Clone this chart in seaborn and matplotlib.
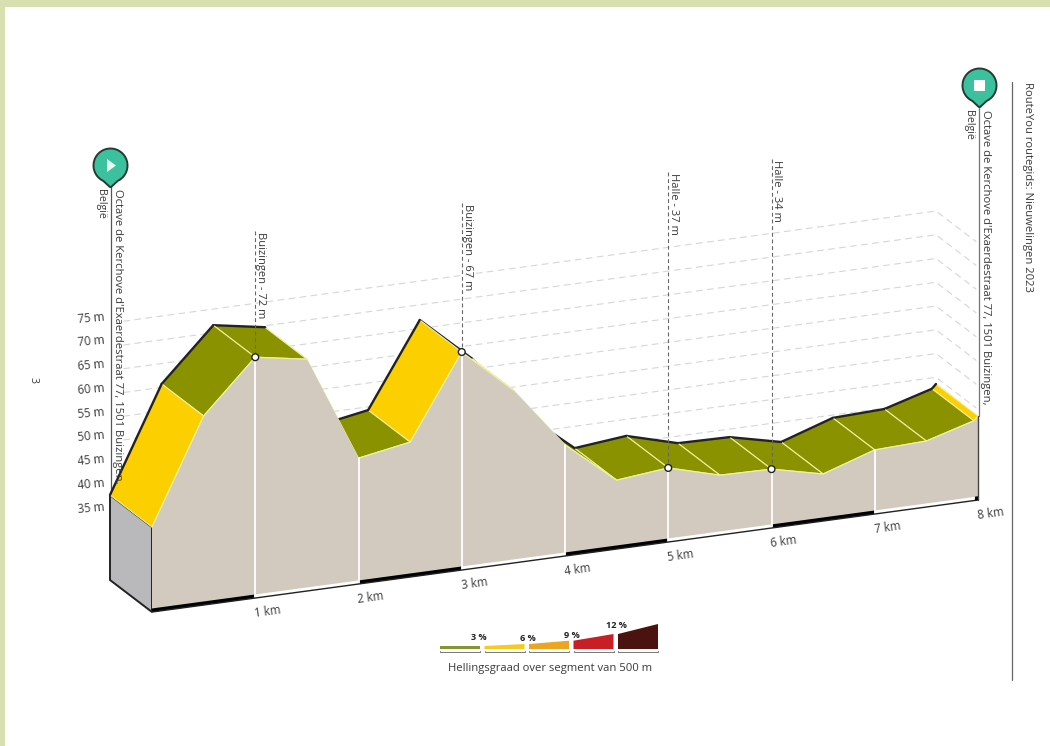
import numpy as np
import pandas as pd
import seaborn as sns
import matplotlib
matplotlib.use("Agg")
import matplotlib.pyplot as plt
from matplotlib.patches import Circle

# ---------- data ----------
km = [0, 0.5, 1, 1.5, 2, 2.5, 3, 3.5, 4, 4.5, 5, 5.5, 6, 6.5, 7, 7.5, 7.96, 8]
elev = [38.8, 60.7, 71.6, 69.7, 47.4, 49.3, 66.8, 57.3, 44.3, 35.4, 36.5, 33.5,
        33.3, 30.8, 34.4, 34.8, 37.7, 38.6]
seg_grade = [6, 3, 3, 3, 3, 6, 3, 3, 3, 3, 3, 3, 3, 3, 3, 3, 6]
km_ticks = [1, 2, 3, 4, 5, 6, 7, 8]
km_labels = ["1 km", "2 km", "3 km", "4 km", "5 km", "6 km", "7 km", "8 km"]
elev_ticks = [75, 70, 65, 60, 55, 50, 45, 40, 35]
poi_km = [1, 3, 5, 6]
poi_elev = [71.6, 66.8, 36.5, 33.3]
poi_names = ["Buizingen - 72 m", "Buizingen - 67 m", "Halle - 37 m", "Halle - 34 m"]
poi_top = [231, 203, 172, 159]
legend_pct = ["3 %", "6 %", "9 %", "12 %", ""]
legend_left = [3, 3, 5, 8.3, 15]
legend_right = [3, 5, 8.3, 15, 25]
legend_colors = ["#84962e", "#f7cb1c", "#eca521", "#c81f26", "#4a130f"]
address = "Octave de Kerchove d'Exaerdestraat 77, 1501 Buizingen,"
country = "België"
title = "RouteYou routegids: Nieuwelingen 2023"
legend_title = "Hellingsgraad over segment van 500 m"
base_elev = 20.9

# ---------- style ----------
sns.set_theme(style="white")
plt.rcParams["font.family"] = ["Open Sans", "DejaVu Sans"]
TXT = "#3a3a3a"
DARK = "#222222"
OLIVE = "#8a9200"
YELLOW = "#fccf00"
BEIGE = "#d3cabf"
GREY = "#b9b9bb"
PALE = "#eef0a0"
GRID = "#d6d6d6"
TEAL = "#3cc19f"
BORDER = "#d8dfb0"


def px(k, e, d=0.0):
    k, e, d = np.asarray(k, float), np.asarray(e, float), np.asarray(d, float)
    return 152 + 103.25 * k - 42 * d, 527 - 14 * k - 4.75 * (e - 38.8) - 32 * d


def line(xs, ys, **kw):
    df = pd.DataFrame({"x": xs, "y": ys})
    sns.lineplot(data=df, x="x", y="y", sort=False, estimator=None, legend=False, ax=ax, **kw)


fig = plt.figure(figsize=(10.5, 7.46), dpi=100, facecolor="white")
ax = fig.add_axes([0, 0, 1, 1])
ax.set_axis_off()

# page border
ax.fill([0, 1050, 1050, 0], [0, 0, 6.5, 6.5], color=BORDER, lw=0, zorder=0)
ax.fill([0, 5, 5, 0], [0, 0, 746, 746], color=BORDER, lw=0, zorder=0)

# dashed grid on back plane + right-hand depth
for e in elev_ticks:
    xb, yb = px([0.13, 8, 8], [e, e, e], [1, 1, 0.04])
    line(xb, yb, color=GRID, lw=0.8, linestyle=(0, (6, 4)), zorder=1)
    lx, ly = px(0, e, 1)
    ax.text(91, float(ly) - 5, f"{e} m", ha="center", va="center", rotation=5,
            fontsize=8.3, color=TXT, zorder=8)

# POI guides
for k, e, top in zip(poi_km, poi_elev, poi_top):
    x, y = px(k, e)
    line([x, x], [top, y], color="#666666", lw=0.8, linestyle=(0, (3.5, 2.5)), zorder=6)

# side panel
sx = [px(0, elev[0])[0], px(0, elev[0], 1)[0], px(0, base_elev, 1)[0], px(0, base_elev)[0]]
sy = [px(0, elev[0])[1], px(0, elev[0], 1)[1], px(0, base_elev, 1)[1], px(0, base_elev)[1]]
ax.fill(sx, sy, facecolor=GREY, edgecolor=DARK, lw=1.4, zorder=2, joinstyle="miter")

# road surface bands, painted right to left so hidden descents stay hidden
n_seg = len(seg_grade)
for i, g in enumerate(seg_grade):
    k0, k1, e0, e1 = km[i], km[i + 1], elev[i], elev[i + 1]
    z = 3 + (n_seg - i) * 0.02
    qx, qy = px([k0, k1, k1, k0], [e0, e1, e1, e0], [1, 1, 0, 0])
    ax.fill(qx, qy, facecolor=OLIVE if g == 3 else YELLOW, edgecolor=PALE, lw=0.8, zorder=z)
    bx, by = px([k0, k1], [e0, e1], [1, 1])
    line(bx, by, color=DARK, lw=1.7, zorder=z + 0.01)

# front face
fx, fy = px(km + [8, 0], elev + [base_elev, base_elev])
ax.fill(fx, fy, facecolor=BEIGE, edgecolor="none", zorder=4)
for i in range(n_seg):
    sx0, sy0 = px([km[i], km[i + 1]], [elev[i], elev[i + 1]])
    if (sy0[1] - sy0[0]) / (sx0[1] - sx0[0]) < 0.76:
        line(sx0, sy0, color=PALE, lw=0.9, zorder=4.2)

# km separators, base bars
for k in range(0, 8):
    e_base = [base_elev, base_elev, base_elev + 0.75, base_elev + 0.75]
    bx, by = px([k, k + 1, k + 1, k], e_base)
    ax.fill(bx, by, facecolor="black" if k % 2 == 0 else "white", lw=0, zorder=4.5)
for k in km_ticks[:-1]:
    e_top = np.interp(k, km, elev)
    vx, vy = px([k, k], [e_top, base_elev])
    line(vx, vy, color="white", lw=1.3, zorder=5)
bx, by = px([0, 8], [base_elev, base_elev])
line(bx, by, color=DARK, lw=1.0, zorder=5)
vx, vy = px([8, 8], [elev[-1], base_elev])
line(vx, vy, color="#444444", lw=1.0, zorder=5)
qx, qy = px([8, 8, 7.97, 7.97], [base_elev, base_elev + 0.8, base_elev + 0.8, base_elev])
ax.fill(qx, qy, color="black", lw=0, zorder=5)

# km labels
for k, lab in zip(km_ticks, km_labels):
    x, y = px(k, base_elev)
    ax.text(float(x) + 12.5, float(y) + 14, lab, ha="center", va="center", rotation=7.7,
            fontsize=8.3, color=TXT, zorder=8)

# POI markers and labels
for k, e, top, name in zip(poi_km, poi_elev, poi_top, poi_names):
    x, y = px(k, e)
    ax.add_patch(Circle((float(x), float(y)), 3.4, facecolor="white", edgecolor=DARK, lw=1.0, zorder=7))
    ax.text(float(x) + 5.5, top + 1, name, rotation=-90, ha="center", va="top",
            fontsize=8, color=TXT, zorder=8)


# start / finish pins
def pin(cx, cy, r, square):
    th = np.radians(np.linspace(115, 425, 60))
    xs = list(cx + r * np.cos(th)) + [cx + 0.6, cx - 0.6]
    ys = list(cy + r * np.sin(th)) + [cy + r + 4.5, cy + r + 4.5]
    ax.fill(xs, ys, facecolor=TEAL, edgecolor="#263a34", lw=1.4, zorder=9, joinstyle="round")
    if square:
        ax.fill([cx - 5.5, cx + 5.5, cx + 5.5, cx - 5.5], [cy - 5.5, cy - 5.5, cy + 5.5, cy + 5.5],
                color="white", lw=0, zorder=10)
    else:
        ax.fill([cx - 3.5, cx + 5.5, cx - 3.5], [cy - 6.5, cy, cy + 6.5], color="#e9faf5", lw=0, zorder=10)


line([111, 111], [185, 493], color="#555555", lw=0.9, zorder=2.5)
line([979, 979], [106, 416], color="#777777", lw=0.9, zorder=2.5)
pin(110.5, 165.5, 17, False)
pin(979.5, 85.5, 17, True)
ax.text(117, 189, address, rotation=-90, ha="center", va="top", fontsize=8.1, color=TXT, zorder=8)
ax.text(985, 110, address, rotation=-90, ha="center", va="top", fontsize=8.1, color=TXT, zorder=8)
ax.text(100.5, 189, country, rotation=-90, ha="center", va="top", fontsize=7.7, color=TXT, zorder=8)
ax.text(968.5, 110, country, rotation=-90, ha="center", va="top", fontsize=7.7, color=TXT, zorder=8)

# right title
line([1012, 1012], [82, 680], color="#666666", lw=0.9, zorder=1)
ax.text(1027, 82, title, rotation=-90, ha="center", va="top", fontsize=8.1, color=TXT)
ax.text(33, 380, "3", rotation=-90, ha="center", va="center", fontsize=7.5, color=TXT)

# gradient legend
for i, (pct, hl, hr, c) in enumerate(zip(legend_pct, legend_left, legend_right, legend_colors)):
    x0 = 440 + 44.5 * i
    x1 = x0 + 40
    ax.fill([x0, x1, x1, x0], [649, 649, 649 - hr, 649 - hl], color=c, lw=0, zorder=3)
    line([x0, x0, x1, x1], [650.5, 652, 652, 650.5], color="#777777", lw=0.7, zorder=3)
    if pct:
        lx_off = -1 if i == 0 else 3
        ly_off = 8 if i in (0, 3) else 5.5
        ax.text(x1 + lx_off, 649 - hr - ly_off, pct, ha="center", va="center",
                fontsize=6.6, fontweight="bold", color="#222222", zorder=4)
ax.text(550, 668, legend_title, ha="center", va="center", fontsize=8.1, color=TXT)

ax.set_xlim(0, 1050)
ax.set_ylim(746, 0)
fig.savefig("out.png", dpi=100, facecolor="white")
